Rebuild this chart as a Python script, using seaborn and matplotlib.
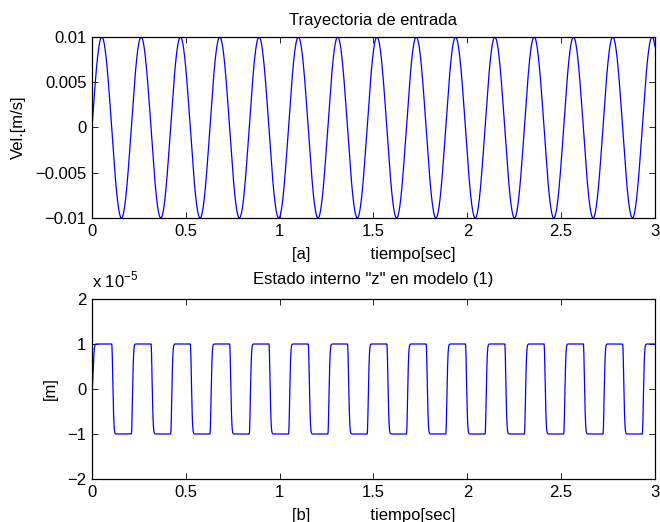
import numpy as np
import pandas as pd
import seaborn as sns
import matplotlib
matplotlib.use('Agg')
import matplotlib.pyplot as plt
from matplotlib.ticker import FuncFormatter

# input trajectory parameters
vel_amp = 0.01        # m/s, peak of the input velocity
omega = 30.0          # rad/s, 15 peaks in 3 s
z_max = 1e-5          # m, saturation level of internal state z
t_end = 3.0
n_samples = 6001

x_ticks = [0, 0.5, 1, 1.5, 2, 2.5, 3]
x_ticklabels = ['0', '0.5', '1', '1.5', '2', '2.5', '3']
top_yticks = [-0.01, -0.005, 0, 0.005, 0.01]
top_yticklabels = ['\u22120.01', '\u22120.005', '0', '0.005', '0.01']
bot_yticks = [-2e-5, -1e-5, 0, 1e-5, 2e-5]

# simulated signals: velocity and Dahl-type internal state
t = np.linspace(0, t_end, n_samples)
vel = vel_amp * np.sin(omega * t)
z = np.zeros_like(t)
dt = t[1] - t[0]
for i in range(1, len(t)):
    v = vel[i - 1]
    zi = z[i - 1]
    for _ in range(10):
        zi += (v - abs(v) * zi / z_max) * dt / 10
    z[i] = zi

df = pd.DataFrame({'t': t, 'vel': vel, 'z': z})

sns.set_theme(style='white')
plt.rcParams['font.family'] = ['Liberation Sans', 'DejaVu Sans']
plt.rcParams['font.size'] = 12
plt.rcParams['text.color'] = 'black'
plt.rcParams['axes.labelcolor'] = 'black'
plt.rcParams['mathtext.fontset'] = 'custom'
plt.rcParams['mathtext.rm'] = 'Liberation Sans'
plt.rcParams['xtick.direction'] = 'in'
plt.rcParams['ytick.direction'] = 'in'

fig = plt.figure(figsize=(6.6, 5.22), dpi=100)
ax1 = fig.add_axes([0.1394, 0.5824, 0.853, 0.3467])
ax2 = fig.add_axes([0.1394, 0.0824, 0.853, 0.3448])

sns.lineplot(data=df, x='t', y='vel', ax=ax1, color='#0000ff', linewidth=0.9)
sns.lineplot(data=df, x='t', y='z', ax=ax2, color='#0000ff', linewidth=0.9)

for ax in (ax1, ax2):
    ax.set_xlim(0, 3)
    ax.set_xticks(x_ticks)
    ax.set_xticklabels(x_ticklabels)
    for s in ax.spines.values():
        s.set_color('black')
        s.set_linewidth(0.9)
    ax.tick_params(axis='both', which='both', length=4, width=0.6, color='black',
                   labelsize=12, labelcolor='black', pad=4,
                   top=True, right=True, bottom=True, left=True)

spaces = ' ' * 13

ax1.set_ylim(-0.01, 0.01)
ax1.set_yticks(top_yticks)
ax1.set_yticklabels(top_yticklabels)
ax1.set_title('Trayectoria de entrada', fontsize=12, pad=9, color='black')
ax1.set_xlabel('[a]' + spaces + 'tiempo[sec]', fontsize=12, labelpad=6)
ax1.set_ylabel('Vel.[m/s]', fontsize=12, labelpad=7)

ax2.set_ylim(-2e-5, 2e-5)
ax2.set_yticks(bot_yticks)
ax2.yaxis.set_major_formatter(FuncFormatter(
    lambda y, p: ('\u2212%d' % abs(round(y / 1e-5))) if y < 0 else '%d' % round(y / 1e-5)))
ax2.set_title('Estado interno "z" en modelo (1)', fontsize=12, pad=11, color='black')
ax2.set_xlabel('[b]' + spaces + 'tiempo[sec]', fontsize=12, labelpad=6)
ax2.set_ylabel('[m]', fontsize=12, labelpad=7)
ax2.text(0.0, 1.05, 'x 10$^{\u22125}$', transform=ax2.transAxes, fontsize=12,
         ha='left', va='bottom', color='black')

fig.savefig('out.png', dpi=100)
